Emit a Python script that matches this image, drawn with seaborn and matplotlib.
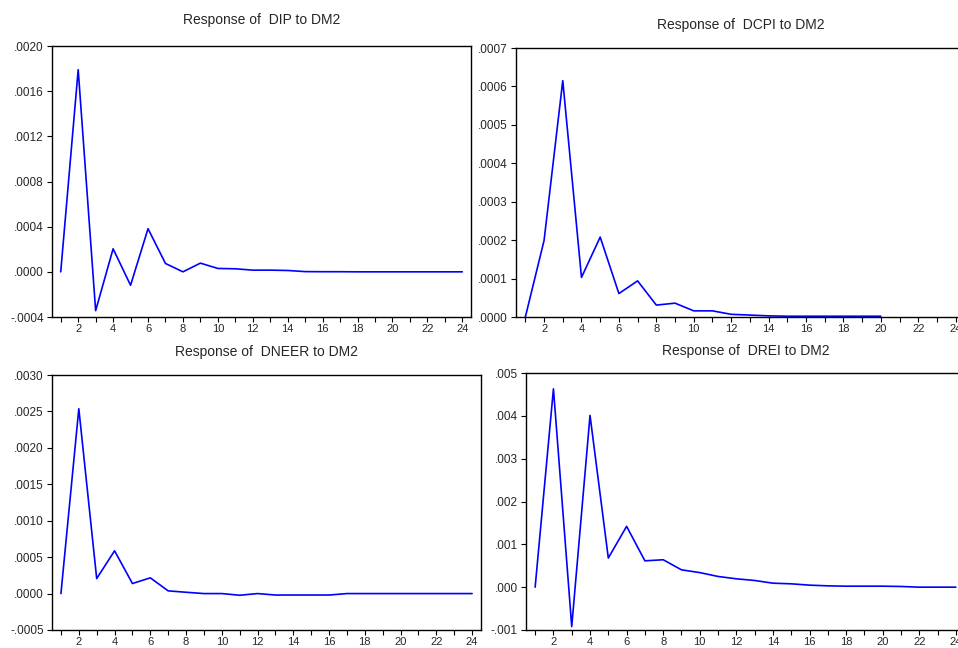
import matplotlib
matplotlib.use("Agg")
import matplotlib.pyplot as plt
import seaborn as sns
import pandas as pd
import numpy as np
from matplotlib.ticker import FuncFormatter, MultipleLocator

# ---- data ----
periods_24 = list(range(1, 25))
periods_20 = list(range(1, 21))

dip = [0.0, 0.00179, -0.000344, 0.000204, -0.000119, 0.000382, 0.000074, 0.0,
       0.000077, 0.00003, 0.000027, 0.000015, 0.000015, 0.000012, 0.000002, 0.000001,
       0.000001, 0.0, 0.0, 0.0, 0.0, 0.0, 0.0, 0.0]

dcpi = [0.0, 0.000199, 0.000615, 0.000103, 0.000208, 0.000061, 0.000094, 0.000031,
        0.000036, 0.000016, 0.000016, 0.000007, 0.000005, 0.000003, 0.000002, 0.000002,
        0.000002, 0.000002, 0.000002, 0.000002]

dneer = [0.0, 0.002537, 0.000206, 0.000587, 0.000138, 0.000216, 0.000037, 0.000018,
         0.0, 0.0, -0.000023, 0.0, -0.00002, -0.00002, -0.00002, -0.00002,
         0.0, 0.0, 0.0, 0.0, 0.0, 0.0, 0.0, 0.0]

drei = [0.0, 0.00463, -0.00092, 0.00401, 0.00068, 0.00142, 0.000615, 0.00064,
        0.000405, 0.00034, 0.00025, 0.000195, 0.000156, 0.000093, 0.000078, 0.000047,
        0.000031, 0.000023, 0.000023, 0.000023, 0.000016, 0.0, 0.0, 0.0]

titles = ["Response of  DIP to DM2", "Response of  DCPI to DM2",
          "Response of  DNEER to DM2", "Response of  DREI to DM2"]
x_tick_labels = [2, 4, 6, 8, 10, 12, 14, 16, 18, 20, 22, 24]
y_ticks_dip = [-0.0004, 0.0, 0.0004, 0.0008, 0.0012, 0.0016, 0.0020]
y_ticks_dcpi = [0.0, 0.0001, 0.0002, 0.0003, 0.0004, 0.0005, 0.0006, 0.0007]
y_ticks_dneer = [-0.0005, 0.0, 0.0005, 0.0010, 0.0015, 0.0020, 0.0025, 0.0030]
y_ticks_drei = [-0.001, 0.0, 0.001, 0.002, 0.003, 0.004, 0.005]

sns.set_style("white")
plt.rcParams['font.family'] = ['Liberation Sans', 'DejaVu Sans']

W, H = 958, 648
fig = plt.figure(figsize=(W / 100, H / 100), dpi=100)

def rect(l, r, t, b):
    return [l / W, 1 - b / H, (r - l) / W, (b - t) / H]

panels = [
    (rect(52, 471, 46, 317), periods_24, dip, titles[0], y_ticks_dip, 4, 16),
    (rect(516, 965, 48, 317), periods_20, dcpi, titles[1], y_ticks_dcpi, 4, 13.5),
    (rect(52, 481, 375, 630), periods_24, dneer, titles[2], y_ticks_dneer, 4, 13.5),
    (rect(526, 965, 373, 630), periods_24, drei, titles[3], y_ticks_drei, 3, 13),
]

for pos, xs, ys, title, yt, dec, pad in panels:
    ax = fig.add_axes(pos)
    df = pd.DataFrame({"period": xs, "response": ys})
    sns.lineplot(data=df, x="period", y="response", ax=ax, color="#0000ff", linewidth=1.2)
    ax.set_xlim(0.5, 24.5)
    ax.set_ylim(yt[0], yt[-1])
    ax.set_yticks(yt)
    ax.set_xticks(x_tick_labels)
    ax.xaxis.set_minor_locator(MultipleLocator(1))
    ax.yaxis.set_major_formatter(FuncFormatter(
        lambda v, p, d=dec: (f"{v:.{d}f}").replace("0.", ".", 1)))
    ax.set_xlabel("")
    ax.set_ylabel("")
    ax.set_title(title, fontsize=10, pad=pad)
    for s in ax.spines.values():
        s.set_color("black")
        s.set_linewidth(1.0)
    ax.tick_params(axis="both", which="both", direction="out", length=3.5, width=0.8,
                   color="black", pad=2.5, bottom=True, left=True)
    ax.tick_params(axis="y", labelsize=8.5)
    ax.tick_params(axis="x", labelsize=8, pad=1.5)
    ax.grid(False)

fig.savefig("out.png", dpi=100)
